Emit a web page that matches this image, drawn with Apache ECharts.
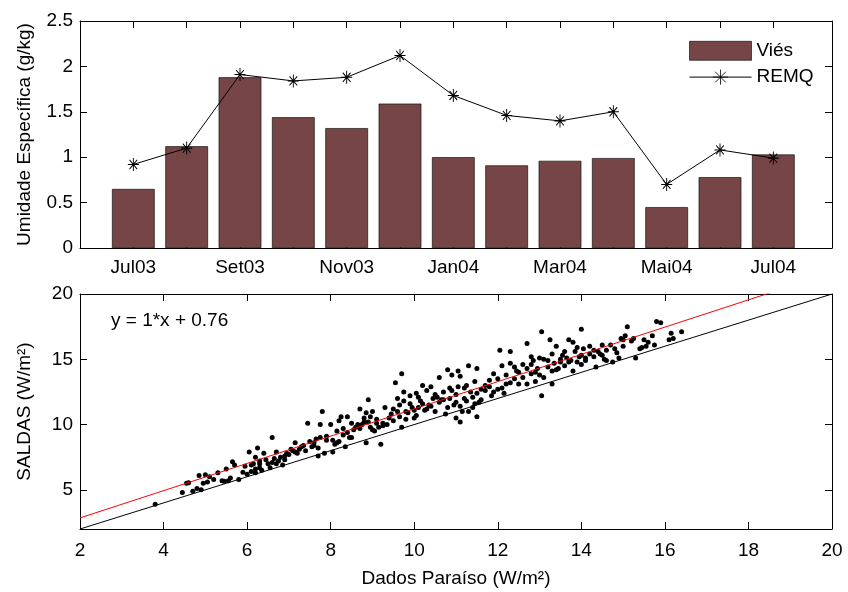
<!DOCTYPE html>
<html>
<head>
<meta charset="utf-8">
<script src="https://cdn.jsdelivr.net/npm/echarts@6/dist/echarts.min.js"></script>
<style>
html,body{margin:0;padding:0;background:#fff;}
#chart{width:848px;height:592px;}
</style>
</head>
<body>
<div id="chart"></div>
<script>
// ---- Top panel data ----
const monthIndex = [1,2,3,4,5,6,7,8,9,10,11,12,13];
const monthLabels = {1:'Jul03',3:'Set03',5:'Nov03',7:'Jan04',9:'Mar04',11:'Mai04',13:'Jul04'};
const vies = [0.65,1.12,1.88,1.44,1.32,1.59,1.00,0.91,0.96,0.99,0.45,0.78,1.03];
const remq = [0.92,1.10,1.91,1.84,1.88,2.12,1.68,1.46,1.40,1.50,0.70,1.08,0.99];

// ---- Bottom panel data ----
const scatterPairs = [
[3.8,3.9],[4.45,4.8],[4.55,5.5],[4.6,5.55],[4.7,4.9],[4.8,5.1],[4.85,6.1],[4.9,5.0],[4.95,5.5],[5.0,6.15],
[5.05,5.6],[5.1,6.0],[5.2,5.8],[5.3,6.3],[5.4,5.7],[5.45,5.65],[5.5,6.6],[5.55,5.7],[5.6,5.9],[5.65,7.15],
[5.7,6.9],[5.8,5.8],[5.9,6.35],[5.95,6.8],[6.0,6.2],[6.05,7.9],[6.1,6.4],[6.15,7.0],[6.2,6.6],[6.2,7.5],
[6.25,8.2],[6.3,6.7],[6.3,7.0],[6.35,6.5],[6.4,7.8],[6.45,7.3],[6.5,7.0],[6.55,6.7],[6.6,9.0],[6.65,7.4],
[6.7,7.9],[6.75,7.2],[6.8,7.5],[6.85,6.9],[6.9,7.6],[6.95,7.8],[7.1,8.0],[7.15,8.6],[7.2,7.8],[7.25,8.1],
[7.35,8.4],[7.45,10.1],[7.5,8.7],[7.55,8.3],[7.6,8.6],[7.7,7.6],[7.75,9.0],[7.75,10.0],[7.8,11.0],[7.85,7.8],
[7.9,8.8],[8.0,10.0],[8.05,7.9],[8.1,8.5],[8.15,9.5],[8.2,8.7],[8.2,10.3],[8.25,10.6],[8.3,9.2],[8.35,8.3],
[8.4,10.6],[8.45,9.0],[8.5,10.1],[8.6,9.8],[8.7,11.2],[8.75,10.0],[8.8,10.5],[8.85,8.6],[8.9,11.9],[8.9,10.2],
[8.95,9.8],[9.0,11.0],[9.05,9.5],[9.1,10.1],[9.2,8.5],[9.25,9.9],[9.3,11.3],[9.35,10.0],[9.45,10.8],[9.5,11.2],
[9.55,13.2],[9.6,12.0],[9.65,11.5],[9.7,13.9],[9.7,9.8],[9.75,12.5],[9.8,11.0],[9.85,10.9],[9.9,12.2],[9.95,11.3],
[10.0,10.5],[10.05,12.4],[10.1,11.3],[10.15,11.8],[10.2,13.0],[10.25,11.1],[10.3,12.6],[10.35,11.5],[10.4,12.9],[10.45,12.0],
[10.5,11.0],[10.55,12.1],[10.6,13.6],[10.65,11.9],[10.7,12.5],[10.75,10.8],[10.8,14.2],[10.85,12.8],[10.9,13.8],[10.95,11.5],
[11.0,10.5],[11.0,12.3],[11.05,14.1],[11.1,13.7],[11.1,10.2],[11.15,11.0],[11.2,12.8],[11.25,11.8],[11.3,14.5],[11.35,12.5],
[11.4,11.3],[11.45,13.3],[11.5,14.3],[11.5,10.6],[11.55,11.7],[11.6,12.7],[11.7,13.0],[11.8,13.4],[11.85,12.2],[11.9,13.9],
[12.0,12.7],[12.05,15.7],[12.1,14.5],[12.15,12.4],[12.2,13.1],[12.3,14.7],[12.3,15.6],[12.4,13.5],[12.45,14.1],[12.5,13.1],
[12.6,14.6],[12.7,16.2],[12.7,13.1],[12.8,15.2],[12.8,13.9],[12.85,14.9],[12.9,13.3],[12.95,14.3],[13.0,15.1],[13.05,17.1],
[13.05,12.2],[13.1,13.6],[13.2,14.4],[13.25,16.5],[13.3,13.1],[13.3,14.1],[13.35,14.7],[13.4,16.0],[13.45,14.3],[13.5,14.8],
[13.55,15.3],[13.6,14.5],[13.65,15.1],[13.7,16.5],[13.75,14.9],[13.8,16.3],[13.85,15.6],[13.9,14.8],[13.95,15.2],[14.0,17.3],
[14.0,14.6],[14.05,15.8],[14.1,15.1],[14.2,15.4],[14.3,15.7],[14.35,14.4],[14.45,15.4],[14.5,16.1],[14.55,15.0],[14.6,15.7],
[14.7,16.1],[14.75,14.8],[14.85,15.5],[14.95,16.6],[15.0,16.0],[15.05,16.8],[15.1,17.5],[15.25,16.6],[15.3,15.1],[15.4,15.8],
[15.5,16.5],[15.55,16.0],[15.6,16.3],[15.75,16.1],[15.8,17.9],[15.9,17.8],[16.1,16.5],[16.15,17.0],[16.2,16.6],[16.4,17.1],
[6.1,6.9],[6.2,6.3],[6.3,7.2],[6.6,7.1],[6.7,7.0],[6.9,7.3],[7.0,7.7],[7.05,8.1],[7.15,7.9],[7.3,8.3],
[7.4,8.0],[7.6,8.4],[7.65,8.9],[7.7,8.2],[7.9,9.1],[8.05,8.8],[8.15,8.6],[8.3,9.7],[8.4,9.4],[8.5,9.0],
[8.55,9.6],[8.65,10.0],[8.7,9.7],[8.8,10.2],[8.85,10.9],[8.95,10.6],[9.0,9.6],[9.1,10.4],[9.15,9.8],[9.25,10.1],
[9.4,10.5],[9.5,10.3],[9.6,11.0],[9.65,10.6],[9.75,11.8],[9.8,10.4],[9.9,11.6],[10.0,11.1],[10.05,10.7],[10.1,12.1],
[10.2,11.6],[10.3,11.2],[10.4,11.4],[10.5,12.3],[10.6,11.7],[10.7,11.9],[10.8,11.3],[10.85,12.0],[10.9,12.6],[11.0,11.7],
[11.05,12.9],[11.1,11.4],[11.2,12.0],[11.25,13.0],[11.3,11.0],[11.4,12.1],[11.45,11.6],[11.5,12.4],[11.6,11.9],[11.7,12.6],
[11.8,12.9],[11.9,12.5],[12.0,13.5],[12.1,12.8],[12.2,13.8],[12.3,13.2],[12.4,14.4],[12.5,14.0],[12.6,13.6],[12.7,14.3],
[12.8,14.6],[12.9,14.0],[13.0,13.8],[13.1,15.0],[13.2,14.9],[13.3,15.4],[13.4,14.2],[13.5,15.0],[13.6,15.6],[13.7,14.8],
[13.8,14.1],[13.9,15.9],[14.0,15.3],[14.1,14.9],[14.2,16.0],[14.3,15.2],[14.4,15.6],[14.5,15.3],[14.6,14.9],[14.8,15.8],
[14.9,15.1],[15.0,16.5],[15.2,16.4],[15.45,15.9],[15.7,16.8]
];
// fitted regression line (slope label rounded to 1 in the figure) and 1:1 line
const fitSlope = 1.044;
const fitIntercept = 0.76;
const xRange = [2, 20];
const bottomYTicks = [5,10,15,20];

const FONT = 'Liberation Sans, Arial, Helvetica, sans-serif';
const FS = 19;
const asterisk = 'path://M0,-10L0,10M-10,0L10,0M-7,-7L7,7M-7,7L7,-7';

function boxAxis(extra){
  return Object.assign({
    axisLine:{show:true, onZero:false, lineStyle:{color:'#000', width:1}},
    axisTick:{show:true, inside:true, length:7, lineStyle:{color:'#000', width:1}},
    axisLabel:{show:false},
    splitLine:{show:false}
  }, extra);
}

const chart = echarts.init(document.getElementById('chart'), null, {renderer:'canvas'});
const option = {
  animation:false,
  backgroundColor:'#fff',
  textStyle:{fontFamily:FONT},
  title:{
    text:'y = ' + Math.round(fitSlope) + '*x + ' + fitIntercept,
    left:106, top:306,
    textStyle:{fontSize:FS, fontWeight:'normal', color:'#000', fontFamily:FONT}
  },
  legend:{
    data:[
      {name:'Viés', icon:'rect', itemStyle:{borderWidth:0.6, borderColor:'#000'}},
      {name:'REMQ', itemStyle:{borderWidth:0.8}, lineStyle:{width:1}}
    ],
    orient:'vertical',
    left:684, top:36,
    itemWidth:62, itemHeight:19, itemGap:7,
    textStyle:{fontSize:FS, color:'#000', fontFamily:FONT},
    selectedMode:false
  },
  grid:[
    {left:80, right:16, top:21, height:227},
    {left:80, right:16, top:294, height:235}
  ],
  xAxis:[
    boxAxis({type:'value', gridIndex:0, min:0, max:14.1, position:'bottom',
      axisTick:{show:true, inside:true, length:7, customValues:monthIndex, lineStyle:{color:'#000'}},
      axisLabel:{show:true, customValues:Object.keys(monthLabels).map(Number), formatter:v=>monthLabels[v]||'', fontSize:FS, color:'#000', margin:10, fontFamily:FONT}
    }),
    boxAxis({type:'value', gridIndex:0, min:0, max:14.1, position:'top',
      axisTick:{show:true, inside:true, length:7, customValues:monthIndex, lineStyle:{color:'#000'}}
    }),
    boxAxis({type:'value', gridIndex:1, min:xRange[0], max:xRange[1], interval:2, position:'bottom',
      axisLabel:{show:true, fontSize:FS, color:'#000', margin:12, fontFamily:FONT},
      name:'Dados Paraíso (W/m²)', nameLocation:'middle', nameGap:40,
      nameTextStyle:{fontSize:FS, color:'#000', fontFamily:FONT}
    }),
    boxAxis({type:'value', gridIndex:1, min:xRange[0], max:xRange[1], interval:2, position:'top'})
  ],
  yAxis:[
    boxAxis({type:'value', gridIndex:0, min:0, max:2.5, interval:0.5, position:'left',
      axisLabel:{show:true, fontSize:FS, color:'#000', margin:7, fontFamily:FONT},
      name:'Umidade Específica (g/kg)', nameLocation:'middle', nameGap:46, nameRotate:90,
      nameTextStyle:{fontSize:FS, color:'#000', fontFamily:FONT}
    }),
    boxAxis({type:'value', gridIndex:0, min:0, max:2.5, interval:0.5, position:'right'}),
    boxAxis({type:'value', gridIndex:1, min:2, max:20, position:'left',
      axisTick:{show:true, inside:true, length:7, customValues:bottomYTicks, lineStyle:{color:'#000'}},
      axisLabel:{show:true, customValues:bottomYTicks, fontSize:FS, color:'#000', margin:7, fontFamily:FONT},
      name:'SALDAS (W/m²)', nameLocation:'middle', nameGap:46, nameRotate:90,
      nameTextStyle:{fontSize:FS, color:'#000', fontFamily:FONT}
    }),
    boxAxis({type:'value', gridIndex:1, min:2, max:20, position:'right',
      axisTick:{show:true, inside:true, length:7, customValues:bottomYTicks, lineStyle:{color:'#000'}}
    })
  ],
  series:[
    {
      name:'Viés', type:'bar', xAxisIndex:0, yAxisIndex:0,
      data:monthIndex.map((m,i)=>[m, vies[i]]),
      barWidth:'80%',
      itemStyle:{color:'#764545', borderColor:'#000', borderWidth:0.6}
    },
    {
      name:'REMQ', type:'line', xAxisIndex:0, yAxisIndex:0,
      data:monthIndex.map((m,i)=>[m, remq[i]]),
      symbol:asterisk, symbolSize:[11,13],
      lineStyle:{color:'#000', width:1},
      itemStyle:{color:'#000', borderColor:'#000', borderWidth:1}
    },
    {
      name:'dados', type:'scatter', xAxisIndex:2, yAxisIndex:2,
      data:scatterPairs, symbolSize:5,
      itemStyle:{color:'#000', opacity:1}
    },
    {
      name:'ajuste', type:'line', xAxisIndex:2, yAxisIndex:2,
      data:xRange.map(x=>[x, fitSlope*x + fitIntercept]),
      symbol:'none', clip:true,
      lineStyle:{color:'#ff0000', width:1}
    },
    {
      name:'1:1', type:'line', xAxisIndex:2, yAxisIndex:2,
      data:xRange.map(x=>[x, x]),
      symbol:'none', clip:true,
      lineStyle:{color:'#000', width:1}
    }
  ]
};
chart.setOption(option);
</script>
</body>
</html>
